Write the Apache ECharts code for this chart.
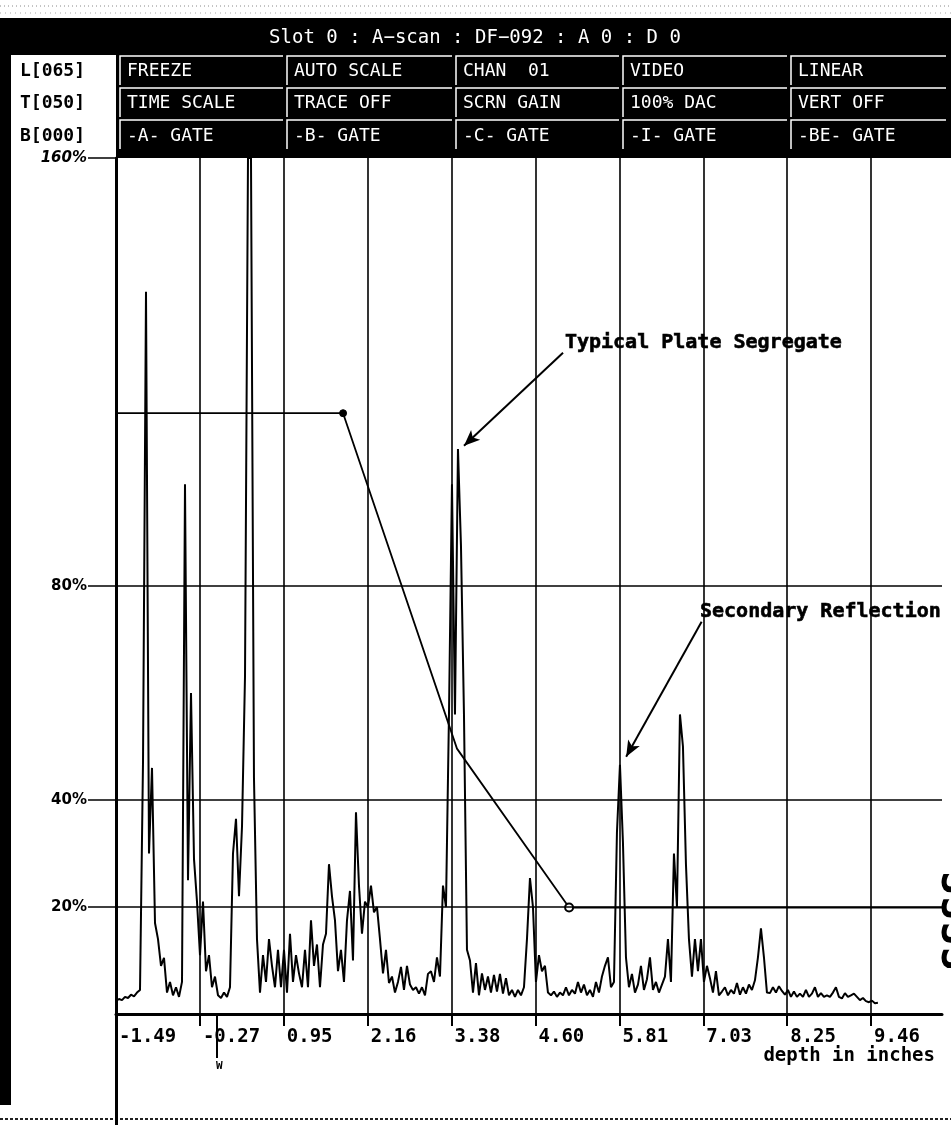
<!DOCTYPE html>
<html><head><meta charset="utf-8">
<script src="https://cdn.jsdelivr.net/npm/echarts@6/dist/echarts.min.js"></script>
<style>html,body{margin:0;padding:0;background:#fff}#c{width:951px;height:1125px}</style>
</head><body><div id="c"></div>
<script>
// ---- data ----
const depthStart = -1.49;          // inches at left edge
const depthPerDivision = 1.2175;   // inches per grid division
const sampleStep = 0.04353;        // inches between A-scan samples
const amplitude = [
  2.5, 2.8, 2.6, 3.2, 3.0, 3.6, 3.3, 4.0, 4.5, 47,
  135, 30, 46, 17, 14, 9, 10.5, 4, 6, 3.5,
  5, 3.2, 6, 99, 25, 60, 29, 21, 11, 21,
  8, 11, 5, 7, 3.5, 3, 4, 3.2, 5, 30,
  36.5, 22, 35, 63, 160, 160, 44, 14, 4, 11,
  6, 14, 9, 5, 12, 5, 12, 4, 15, 6,
  11, 7.6, 5, 12, 5, 17.5, 9, 13, 5, 13,
  15, 28, 22, 17.5, 8, 12, 6, 17.5, 23, 10,
  37.7, 24, 15, 21, 20, 24, 19, 20, 14, 7.6,
  12, 5.8, 7, 4, 6, 8.8, 4.5, 9, 5.5, 4.5,
  5, 3.8, 5, 3.5, 7.5, 8, 6, 10.6, 7, 24,
  20, 56, 99, 56, 105.6, 87.5, 56, 12, 10, 4,
  9.5, 3.5, 7.6, 4.5, 7, 4, 7.3, 4.2, 7.5, 3.8,
  6.7, 3.5, 4.5, 3.2, 4.5, 3.5, 5, 14, 25.4, 20,
  6, 11, 8, 9, 4, 3.5, 4.2, 3.2, 4, 3.5,
  5, 3.5, 4.5, 3.8, 6, 4, 5.5, 3.5, 4.5, 3.2,
  6, 4, 7, 9, 10.6, 5, 6, 34, 46.6, 32,
  10.6, 5, 7.5, 4, 5.5, 9, 4.5, 6.5, 10.6, 4.5,
  6, 4, 5.5, 7, 14, 6, 30, 20, 56, 50,
  28, 14, 7, 14, 8, 14, 6, 9, 6.7, 4,
  8, 3.5, 4.2, 5, 3.5, 4.5, 3.8, 5.8, 3.6, 5,
  3.8, 5.5, 4.5, 6.3, 10.6, 16, 10.6, 4, 3.9, 5,
  4, 5.2, 4.3, 3.6, 4.5, 3.2, 4.2, 3.2, 3.8, 3.2,
  4.5, 3.2, 3.8, 5, 3.2, 3.9, 3.2, 3.5, 3.2, 4,
  5, 3.2, 2.9, 3.9, 3.2, 3.5, 3.8, 3.2, 2.6, 3,
  2.4, 2.2, 2.5, 2.0, 2.1
];
const xTickLabels = ['-1.49','-0.27','0.95','2.16','3.38','4.60','5.81','7.03','8.25','9.46'];
const yTickValues = [20, 40, 80, 160];
const gridLevels = [20, 40, 80];
const dacDepth = [-1.49, 1.805, 3.458, 5.085, 10.50];
const dacLevel = [112.3, 112.3, 49.6, 19.9, 19.9];
const dacMarker = ['none', 'dot', 'none', 'ring', 'none'];
const noteText = ['Typical Plate Segregate', 'Secondary Reflection'];
const noteTextAt = [[5.024, 125.4], [6.984, 75.1]];
const noteArrowFrom = [[4.997, 123.6], [7.008, 73.3]];
const noteArrowTo = [[3.560, 106.2], [5.913, 48.1]];
const headerTitle = 'Slot 0 : A\u2212scan : DF\u2212092 : A 0 : D 0';
const headerRowLabels = ['L[065]', 'T[050]', 'B[000]'];
const headerButtons = [
  ['FREEZE', 'AUTO SCALE', 'CHAN  01', 'VIDEO', 'LINEAR'],
  ['TIME SCALE', 'TRACE OFF', 'SCRN GAIN', '100% DAC', 'VERT OFF'],
  ['-A- GATE', '-B- GATE', '-C- GATE', '-I- GATE', '-BE- GATE']
];

// ---- helpers ----
const MONO = '"DejaVu Sans Mono", "Liberation Mono", monospace';
const toDiv = d => (d - depthStart) / depthPerDivision;
const divCount = 9.845;
const divTicks = xTickLabels.map((_, i) => i);

const traceData = amplitude.map((a, i) => [toDiv(depthStart + i * sampleStep), a]);
const dacData = dacDepth.map((d, i) => {
  const item = { value: [toDiv(d), dacLevel[i]] };
  if (dacMarker[i] === 'dot') { item.symbol = 'circle'; item.symbolSize = 7; item.itemStyle = { color: '#000', borderColor: '#000' }; }
  else if (dacMarker[i] === 'ring') { item.symbol = 'circle'; item.symbolSize = 8; item.itemStyle = { color: '#fff', borderColor: '#000', borderWidth: 2 }; }
  else { item.symbol = 'none'; }
  return item;
});
const noteData = noteText.map((t, i) => ({ name: t, value: [toDiv(noteTextAt[i][0]), noteTextAt[i][1]] }));
const arrowData = noteText.map((t, i) => [
  { coord: [toDiv(noteArrowFrom[i][0]), noteArrowFrom[i][1]] },
  { coord: [toDiv(noteArrowTo[i][0]), noteArrowTo[i][1]] }
]);

// ---- header / decorations (screen furniture) ----
const headerEls = [];
headerEls.push({ type: 'rect', shape: { x: 0, y: 18, width: 951, height: 37 }, style: { fill: '#000' } });
headerEls.push({ type: 'rect', shape: { x: 116, y: 54, width: 835, height: 104 }, style: { fill: '#000' } });
headerEls.push({ type: 'rect', shape: { x: 0, y: 18, width: 11, height: 1087 }, style: { fill: '#000' } });
headerEls.push({ type: 'text', x: 475, y: 38, style: { text: headerTitle, fill: '#fff', font: '19px ' + MONO, textAlign: 'center', textVerticalAlign: 'middle', align: 'center', verticalAlign: 'middle' } });
const rowY = [71, 103, 136];
const rowTop = [56, 88, 120];
const colX = [120, 287, 456, 623, 791];
headerRowLabels.forEach((t, r) => {
  headerEls.push({ type: 'text', x: 20, y: rowY[r], style: { text: t, fill: '#000', font: 'bold 18px ' + MONO, textAlign: 'left', textVerticalAlign: 'middle', align: 'left', verticalAlign: 'middle' } });
});
headerButtons.forEach((row, r) => {
  row.forEach((t, c) => {
    const x0 = colX[c];
    const x1 = c < colX.length - 1 ? colX[c + 1] - 4 : 946;
    headerEls.push({ type: 'polyline', shape: { points: [[x0, rowTop[r] + 29], [x0, rowTop[r]], [x1, rowTop[r]]] }, style: { stroke: '#fff', lineWidth: 1.5, fill: null } });
    headerEls.push({ type: 'text', x: x0 + 7, y: rowY[r], style: { text: t, fill: '#fff', font: '18px ' + MONO, textAlign: 'left', textVerticalAlign: 'middle', align: 'left', verticalAlign: 'middle' } });
  });
});
// scan noise lines top and bottom
headerEls.push({ type: 'line', shape: { x1: 0, y1: 6, x2: 951, y2: 6 }, style: { stroke: '#888', lineWidth: 1, lineDash: [1, 3] } });
headerEls.push({ type: 'line', shape: { x1: 0, y1: 13, x2: 951, y2: 13 }, style: { stroke: '#aaa', lineWidth: 1, lineDash: [1, 4] } });
headerEls.push({ type: 'line', shape: { x1: 0, y1: 1119, x2: 951, y2: 1119 }, style: { stroke: '#222', lineWidth: 2, lineDash: [3, 2] } });
// axis extension below plot
headerEls.push({ type: 'line', shape: { x1: 116.5, y1: 1014, x2: 116.5, y2: 1125 }, style: { stroke: '#000', lineWidth: 3 } });
// depth caption
headerEls.push({ type: 'text', x: 935, y: 1056, style: { text: 'depth in inches', fill: '#000', font: 'bold 19px ' + MONO, textAlign: 'right', textVerticalAlign: 'middle', align: 'right', verticalAlign: 'middle' } });
// W marker
headerEls.push({ type: 'line', shape: { x1: 217, y1: 1014, x2: 217, y2: 1058 }, style: { stroke: '#000', lineWidth: 2 } });
headerEls.push({ type: 'text', x: 216, y: 1066, style: { text: 'W', fill: '#000', font: 'bold 11px ' + MONO, textAlign: 'left', textVerticalAlign: 'middle', align: 'left', verticalAlign: 'middle' } });
// cropped rotated figure text at right edge
headerEls.push({ type: 'text', x: 962, y: 895, rotation: Math.PI / 2, style: { text: 'SSSS .', fill: '#000', font: 'bold 42px ' + MONO, textAlign: 'center', textVerticalAlign: 'middle', align: 'center', verticalAlign: 'middle' } });

const chart = echarts.init(document.getElementById('c'), null, { renderer: 'canvas' });
chart.setOption({
  backgroundColor: '#fff',
  animation: false,
  grid: { left: 116, right: 9, top: 158, bottom: 111, containLabel: false },
  xAxis: {
    type: 'value', min: 0, max: divCount, interval: 1,
    axisLine: { show: true, onZero: false, lineStyle: { color: '#000', width: 3 } },
    axisTick: { show: true, customValues: divTicks, length: 12, lineStyle: { color: '#000', width: 2 } },
    axisLabel: {
      customValues: divTicks, formatter: v => xTickLabels[Math.round(v)] || '',
      align: 'left', margin: 14, padding: [0, 0, 0, 3], color: '#000',
      fontFamily: MONO, fontWeight: 'bold', fontSize: 19
    },
    splitLine: { show: false }
  },
  yAxis: {
    type: 'value', min: 0, max: 160, interval: 20,
    axisLine: { show: true, lineStyle: { color: '#000', width: 3 } },
    axisTick: { show: true, customValues: yTickValues, length: 28, lineStyle: { color: '#000', width: 1.5 } },
    axisLabel: {
      customValues: yTickValues,
      formatter: v => (v === 160 ? '{it|' + v + '%}' : '{up|' + v + '%}'),
      margin: 29, color: '#000',
      rich: {
        it: { fontFamily: '"DejaVu Sans", sans-serif', fontWeight: 'bold', fontStyle: 'italic', fontSize: 15, color: '#000' },
        up: { fontFamily: '"DejaVu Sans", sans-serif', fontWeight: 'bold', fontSize: 15, color: '#000' }
      }
    },
    splitLine: { show: false }
  },
  series: [
    {
      name: 'A-scan', type: 'line', data: traceData, showSymbol: false, symbol: 'none',
      lineStyle: { color: '#000', width: 2 }, clip: true, z: 3,
      markLine: {
        silent: true, symbol: ['none', 'none'], label: { show: false },
        lineStyle: { color: '#000', width: 1.6, type: 'solid' },
        data: gridLevels.map(v => ({ yAxis: v })).concat(divTicks.slice(1).map(v => ({ xAxis: v })))
      }
    },
    {
      name: 'DAC', type: 'line', data: dacData, lineStyle: { color: '#000', width: 1.8 },
      itemStyle: { color: '#000' }, z: 4
    },
    {
      name: 'notes', type: 'scatter', data: noteData, symbolSize: 0, z: 5,
      itemStyle: { color: '#000', opacity: 1 },
      label: { show: true, position: 'right', distance: 0, formatter: p => p.name, color: '#000', opacity: 1,
        textBorderColor: '#000', textBorderWidth: 0.6, fontFamily: MONO, fontWeight: 'bold', fontSize: 20 },
      markLine: {
        silent: true, symbol: ['none', 'arrow'], symbolSize: [10, 16], label: { show: false },
        lineStyle: { color: '#000', width: 2, type: 'solid' },
        data: arrowData
      }
    }
  ],
  graphic: { elements: headerEls.map(e => Object.assign({ z: 100, silent: true }, e)) }
});
</script></body></html>
